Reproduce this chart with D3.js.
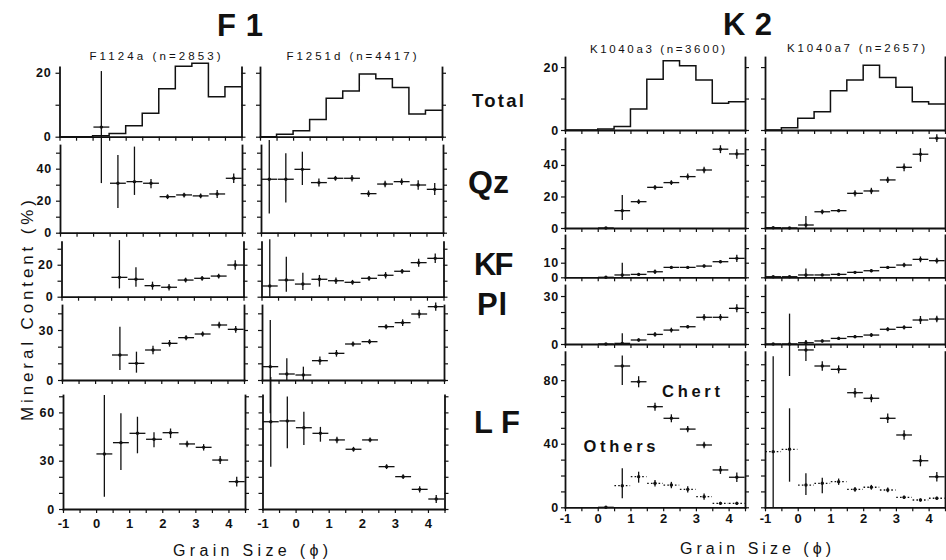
<!DOCTYPE html>
<html>
<head>
<meta charset="utf-8">
<script src="https://cdn.jsdelivr.net/npm/d3@7"></script>
<style>
  body { margin: 0; background: #fff; }
  svg { display: block; font-family: "Liberation Sans", Arial, Helvetica, sans-serif; }
</style>
</head>
<body>
<svg id="fig" width="946" height="560"></svg>
<script>
// ---- grain-size bins (phi), 0.5 phi wide ----
const binEdges   = [-1, -0.5, 0, 0.5, 1, 1.5, 2, 2.5, 3, 3.5, 4, 4.5];
const binCenters = [-0.75, -0.25, 0.25, 0.75, 1.25, 1.75, 2.25, 2.75, 3.25, 3.75, 4.25];
const xTickValues = [-1, -0.5, 0, 0.5, 1, 1.5, 2, 2.5, 3, 3.5, 4, 4.5];

// ---- samples ----
const blockNames  = ["F1", "K2"];
const sampleNames = ["F1124a", "F1251d", "K1040a3", "K1040a7"];
const sampleN     = [2853, 4417, 3600, 2657];
const rowNames    = ["Total", "Qz", "KF", "Pl", "LF"];

// ---- total grain-size frequency (%) per bin ----
const totalF1124a  = [0, 0, 0.3, 1, 3.4, 7.3, 15, 22, 23, 12.5, 15.6];
const totalF1251d  = [0, 0.8, 1.9, 5.4, 12, 14.3, 19.6, 18.1, 15.4, 7.1, 8.3];
const totalK1040a3 = [0, 0, 0.3, 1.1, 6.7, 16.1, 22, 20.4, 15.9, 8.5, 9];
const totalK1040a7 = [0, 0.7, 3.7, 5.8, 12.5, 15.9, 20.6, 16.7, 13.6, 9, 8.3];

// ---- mineral content (%) per bin: [value, lower, upper] ----
const qzF1124a = [null, null, [66, 31, 101], [30.9, 15.4, 48.6], [31.9, 23.6, 53.8], [30.9, 27.7, 33.5],
  [22.5, 21, 24], [23.6, 22, 25], [23, 21.5, 24.5], [24.2, 21.7, 26.7], [34, 31, 37]];
const qzF1251d = [[33.4, 12, 58], [33.4, 18.8, 49.6], [39.6, 29.8, 50.6], [31.3, 28.8, 33.8], [34, 32.5, 35.5],
  [34, 32, 36], [24.4, 22.4, 26.4], [30.4, 28.4, 32.4], [31.9, 29.9, 33.9], [29.8, 26.8, 32.8], [27.1, 23.6, 31]];
const qzK1040a3 = [null, null, [0, 0, 0], [11, 5, 21], [16.7, 15.2, 18.2], [25.8, 24.3, 27.3],
  [28.8, 27.3, 30.3], [32.6, 30.6, 34.6], [36.8, 34.8, 38.8], [50, 47.5, 52.5], [47, 44, 50]];
const qzK1040a7 = [[0.2, 0.2, 0.2], [0, 0, 0], [1.9, 0, 7.6], [10.3, 8.8, 11.8], [11, 10, 12], [22, 20, 24],
  [23.5, 21.5, 25.5], [30.5, 28.5, 32.5], [38.5, 36, 41], [46.8, 42, 50.6], [57, 54.5, 59.5]];

const kfF1124a = [null, null, null, [12.1, 5.2, 35.4], [10.9, 6.3, 18.4], [6.9, 4.4, 9.4],
  [5.9, 3.9, 7.9], [10.4, 8.9, 11.9], [11.5, 10, 13], [12.9, 11.4, 14.4], [19.8, 16.8, 22.8]];
const kfF1251d = [[6.7, 0, 35.9], [10.4, 3.1, 25], [7.9, 4.2, 15], [10.9, 6.3, 13.6], [10, 8, 12],
  [9, 7.5, 10.5], [11.5, 10, 13], [13.4, 11.4, 15.4], [15.9, 14.4, 17.4], [21.3, 18.8, 23.8], [24, 21, 27]];
const kfK1040a3 = [null, null, [0, 0, 0], [1.6, 0, 10], [2, 1, 3], [3.8, 2.3, 5.3],
  [6.8, 5.8, 7.8], [6.8, 5.8, 7.8], [7.7, 6.7, 8.7], [10.7, 9.7, 11.7], [13, 10.5, 15.5]];
const kfK1040a7 = [[0.4, 0.4, 0.4], [0.4, 0.4, 0.4], [1.6, 0, 6.1], [1.6, 1.1, 2.1], [2, 1.5, 2.5],
  [3.4, 2.4, 4.4], [4.5, 3.5, 5.5], [6.8, 5.8, 7.8], [8.4, 6.9, 9.9], [12.3, 10.3, 14.3], [11.4, 9.4, 13.4]];

const plF1124a = [null, null, null, [15, 6, 32], [10, 4.4, 17], [18, 15.5, 20.5],
  [22, 20, 24], [25.4, 23.9, 26.9], [27.6, 26.1, 29.1], [33, 31, 35], [30.4, 28.4, 32.4]];
const plF1251d = [[8, -20, 36], [3.6, 0, 13], [3, 0, 8], [11.6, 9.1, 14.1], [16, 14, 18],
  [21.6, 20.1, 23.1], [23, 21.5, 24.5], [32, 30.5, 33.5], [34.4, 32.4, 36.4], [39.6, 37.1, 42.1], [44, 41.5, 46.5]];
const plK1040a3 = [null, null, [0, 0, 0], [0.4, 0, 6.7], [2.5, 1.5, 3.5], [6, 4.5, 7.5],
  [8.7, 7.2, 10.2], [10.8, 9.8, 11.8], [16.7, 14.7, 18.7], [16.7, 14.7, 18.7], [22.3, 19.8, 24.8]];
const plK1040a7 = [[0, 0, 0], [0, -20, 19], [0.8, 0, 2.5], [1.9, 1, 2.8], [3.5, 2.5, 4.5], [4.6, 3.6, 5.6],
  [5.6, 4.4, 6.8], [9.2, 7.9, 10.5], [10.4, 9, 11.8], [15, 12.5, 17.5], [15.6, 13.6, 17.6]];

const lfF1124a = [null, null, [34.2, 7.6, 70.8], [41.2, 24.2, 59.4], [47, 34.6, 57.3], [43.3, 38.3, 47.6],
  [47.4, 44, 50], [40.4, 38.4, 42.4], [38.3, 36.3, 40.3], [30.4, 27.9, 32.9], [17, 13.9, 20]];
const lfF1251d = [[54.2, 26.3, 82], [54.7, 37.7, 69.8], [50.5, 39.8, 60.4], [47, 41.8, 51], [42.9, 40.9, 44.9],
  [37.1, 35.6, 38.6], [42.9, 41.4, 44.4], [26.3, 24.8, 27.8], [20.1, 18.6, 21.6], [12.2, 10.2, 14.2], [6.2, 3.7, 8.7]];
const chertK1040a3 = [null, null, [0, 0, 0], [88.9, 77, 95.5], [79, 75.5, 82.5], [63.3, 60.8, 65.8],
  [56, 53.5, 58.5], [49.2, 47.2, 51.2], [39.2, 37.2, 41.2], [23.5, 21, 26], [18.9, 15.9, 21.9]];
const othersK1040a3 = [null, null, null, [13.6, 5.7, 24.5], [19.3, 15.5, 22.4], [15.1, 13.1, 17.1],
  [14, 12, 16], [11.3, 9.3, 13.3], [6.7, 4.7, 8.7], [2.5, 1.5, 3.5], [2.5, 1.5, 3.5]];
const chertK1040a7 = [null, null, [99, 92, 105], [88.9, 85.9, 91.9], [86.8, 84.3, 89.3], [72.1, 69.1, 75.1],
  [68.6, 66.1, 71.1], [56, 53, 59], [45.5, 42.5, 48.5], [29.3, 25.8, 32.8], [19.2, 16.2, 22.2]];
const othersK1040a7 = [[35, 0, 95], [36.5, 16.1, 62.3], [14, 7.7, 21.4], [15.1, 8.8, 18.6], [16.1, 14.1, 18.1],
  [11.3, 9.8, 12.8], [12.6, 11.1, 14.1], [10.9, 9.4, 12.4], [6.3, 5.3, 7.3], [4.6, 3.6, 5.6], [5.7, 4.7, 6.7]];

// ---- labelled y ticks per row ----
const yLabelsF1 = [[0, 20], [0, 20, 40], [0, 20], [0, 30], [0, 30, 60]];
const yLabelsK2 = [[0, 20], [0, 20, 40], [0, 10], [0, 30], [0, 40, 80]];

// ---- assemble per-sample tables ----
const samples = [
  { block: 0, total: totalF1124a,  rows: [[qzF1124a], [kfF1124a], [plF1124a], [lfF1124a]] },
  { block: 0, total: totalF1251d,  rows: [[qzF1251d], [kfF1251d], [plF1251d], [lfF1251d]] },
  { block: 1, total: totalK1040a3, rows: [[qzK1040a3], [kfK1040a3], [plK1040a3], [chertK1040a3, othersK1040a3]] },
  { block: 1, total: totalK1040a7, rows: [[qzK1040a7], [kfK1040a7], [plK1040a7], [chertK1040a7, othersK1040a7]] }
];
const yLabels = [yLabelsF1, yLabelsK2];

// ---- layout ----
const rowLayout = [
  [ { top: 67, bottom: 136.7, max: 21.8 }, { top: 145, bottom: 232.7, max: 54.8 },
    { top: 241.7, bottom: 296.7, max: 34.4 }, { top: 305, bottom: 380, max: 45 },
    { top: 395, bottom: 509, max: 70.8 } ],
  [ { top: 57, bottom: 130, max: 23.2 }, { top: 138, bottom: 228, max: 57.1 },
    { top: 235, bottom: 277.3, max: 29 }, { top: 285, bottom: 344, max: 36.9 },
    { top: 351.7, bottom: 507.3, max: 97.9 } ]
];
const colLayout = [
  { lefts: [59.5, 60, 61.5, 62, 63], width: 182, labels: true, pad: 4 },
  { lefts: [260, 261, 261.5, 262, 262.5], width: 182, labels: false, pad: 3 },
  { lefts: [565, 565, 565, 565, 565], width: 180, labels: true, pad: 2 },
  { lefts: [765, 765, 765, 765, 765], width: 180, labels: false, pad: 3 }
];
const bottomPad = [6, 2.5];
const ink = "#111";

const svg = d3.select("#fig");
svg.append("rect").attr("width", 946).attr("height", 560).attr("fill", "#fff");

function styleAxis(g) {
  g.attr("font-family", null).attr("font-size", null);
  g.select(".domain").attr("stroke", ink).attr("stroke-width", 1.8).attr("stroke-linecap", "square");
  g.selectAll(".tick line").attr("stroke", ink).attr("stroke-width", 1.2);
  g.selectAll(".tick text").attr("fill", ink).attr("font-weight", "bold");
}

function drawCrosses(g, pts, x, y, dotted) {
  pts.forEach((p, i) => {
    if (!p) return;
    const c = binCenters[i];
    const [v, lo, hi] = p;
    g.append("line")
      .attr("x1", x(c - 0.24)).attr("x2", x(c + 0.24))
      .attr("y1", y(v)).attr("y2", y(v))
      .attr("stroke", ink).attr("stroke-width", 1.3)
      .attr("stroke-dasharray", dotted ? "1.6,2.2" : null);
    if (hi > lo) {
      g.append("line")
        .attr("x1", x(c)).attr("x2", x(c))
        .attr("y1", y(lo)).attr("y2", y(hi))
        .attr("stroke", ink).attr("stroke-width", 1.3);
    }
    g.append("circle").attr("cx", x(c)).attr("cy", y(v)).attr("r", 1.7).attr("fill", ink);
  });
}

samples.forEach((s, ci) => {
  const L = colLayout[ci];
  const rows = rowLayout[s.block];
  rows.forEach((R, ri) => {
    const g = svg.append("g");
    const x = d3.scaleLinear().domain([-1, 4.5]).range([L.lefts[ri], L.lefts[ri] + L.width]);
    const y = d3.scaleLinear().domain([0, R.max]).range([R.bottom, R.top]);
    const yTicks = d3.range(0, R.max, 10);
    const labs = yLabels[s.block][ri];

    g.append("g").attr("transform", `translate(${x(-1)},0)`)
      .call(d3.axisLeft(y).tickValues(yTicks).tickSize(4).tickSizeOuter(0).tickPadding(L.pad)
        .tickFormat(d => (L.labels && labs.includes(d)) ? d : ""))
      .call(styleAxis)
      .selectAll(".tick text").attr("font-size", 12.5).attr("letter-spacing", "0.8px");

    g.append("g").attr("transform", `translate(${x(4.5)},0)`)
      .call(d3.axisRight(y).tickValues(yTicks).tickSize(4).tickSizeOuter(0).tickFormat(() => ""))
      .call(styleAxis);

    g.append("g").attr("transform", `translate(0,${R.bottom})`)
      .call(d3.axisBottom(x).tickValues(xTickValues).tickSize(4).tickSizeOuter(0)
        .tickPadding(bottomPad[s.block])
        .tickFormat(d => (ri === 4 && Number.isInteger(d)) ? d : ""))
      .call(styleAxis)
      .selectAll(".tick text").attr("font-size", 13);

    if (ri === 0) {
      const pts = s.total.map((v, i) => [binEdges[i], v]);
      pts.push([binEdges[binEdges.length - 1], s.total[s.total.length - 1]]);
      g.append("path")
        .attr("d", d3.line().x(d => x(d[0])).y(d => y(d[1])).curve(d3.curveStepAfter)(pts))
        .attr("fill", "none").attr("stroke", ink).attr("stroke-width", 1.5);
    } else {
      s.rows[ri - 1].forEach((ser, k) => drawCrosses(g, ser, x, y, k === 1));
    }
  });
});

// ---- text ----
function txt(str, x, y, size, weight, len, extra) {
  const t = svg.append("text").attr("x", x).attr("y", y)
    .attr("font-size", size).attr("font-weight", weight).attr("fill", ink).text(str);
  if (len) t.attr("textLength", len).attr("lengthAdjust", "spacing");
  if (extra) extra(t);
  return t;
}

// block titles
txt(blockNames[0], 217, 36, 31, "bold", 46);
txt(blockNames[1], 723, 35, 31, "bold", 49);

// sample captions
const captionPos = [[89.5, 60, 131], [286.5, 60, 130], [590, 53, 135], [787, 52, 138]];
sampleNames.forEach((nm, i) => {
  const [cx, cy, w] = captionPos[i];
  txt(`${nm} (n=${sampleN[i]})`, cx, cy, 11.5, "normal", w);
});

// row names
const rowNamePos = [[472, 107, 18.5, 52], [468, 193, 32, null], [474, 275, 31, 39.5], [477, 315, 31, 30], [474, 433.3, 31, 46]];
rowNames.forEach((nm, i) => {
  const [rx, ry, fs, w] = rowNamePos[i];
  txt(nm, rx, ry, fs, "bold", w);
});

// lithic fragment sub-labels
txt("Chert", 662, 396.5, 16.5, "bold", 58);
txt("Others", 583.5, 451.5, 16.5, "bold", 72);

// axis titles
txt("Mineral Content (%)", 0, 0, 17, "normal", 221, t => t.attr("transform", "translate(33.3,421) rotate(-90)"));
txt("Grain Size (\u03D5)", 173, 556, 16, "normal", 155);
txt("Grain Size (\u03D5)", 680, 554, 16, "normal", 151);
</script>
</body>
</html>
